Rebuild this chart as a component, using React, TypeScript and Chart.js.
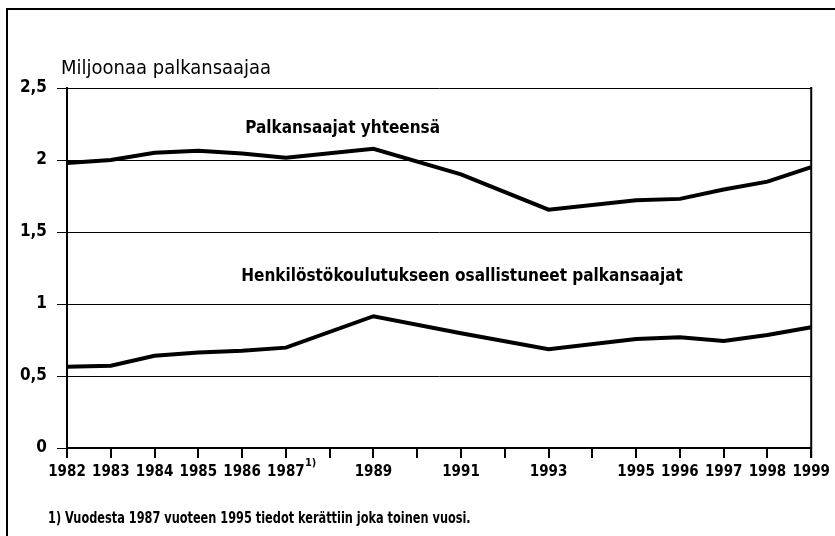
import React, { useEffect, useRef } from "react";
import { Chart, registerables } from "chart.js";

Chart.register(...registerables);

const years = [1982, 1983, 1984, 1985, 1986, 1987, 1989, 1991, 1993, 1995, 1996, 1997, 1998, 1999];
const totalEmployees = [1.98, 2.0, 2.05, 2.065, 2.045, 2.015, 2.078, 1.9, 1.655, 1.72, 1.73, 1.795, 1.85, 1.95];
const trainingParticipants = [0.565, 0.572, 0.64, 0.663, 0.676, 0.697, 0.915, 0.797, 0.686, 0.757, 0.769, 0.743, 0.785, 0.838];
const labeledYears = [1982, 1983, 1984, 1985, 1986, 1987, 1989, 1991, 1993, 1995, 1996, 1997, 1998, 1999];
const seriesNames = ["Palkansaajat yhteensä", "Henkilöstökoulutukseen osallistuneet palkansaajat"];
const seriesLabelAnchors = [
  { x: 1986.07, y: 2.215 },
  { x: 1985.98, y: 1.193 },
];
const yAxisTitle = "Miljoonaa palkansaajaa";
const footnoteMarkYear = 1987;
const footnoteMark = "1)";
const footnote = "1) Vuodesta 1987 vuoteen 1995 tiedot kerättiin joka toinen vuosi.";

const FAMILY = '"Liberation Sans Narrow", "DejaVu Sans Condensed", "Roboto Condensed", "Liberation Sans", sans-serif';

const annotations = {
  id: "annotations",
  afterDraw(chart: any) {
    const { ctx, chartArea, scales } = chart;
    ctx.save();
    // right border
    ctx.strokeStyle = "#000";
    ctx.lineWidth = 2;
    ctx.beginPath();
    ctx.moveTo(chartArea.right, chartArea.top - 1);
    ctx.lineTo(chartArea.right, chartArea.bottom + 10);
    ctx.stroke();
    // series labels
    ctx.fillStyle = "#000";
    ctx.font = `bold 17px ${FAMILY}`;
    ctx.textAlign = "left";
    ctx.textBaseline = "middle";
    seriesNames.forEach((n, i) => {
      const a = seriesLabelAnchors[i];
      ctx.fillText(n, scales.x.getPixelForValue(a.x), scales.y.getPixelForValue(a.y));
    });
    // footnote mark after 1987
    ctx.font = `bold 11px ${FAMILY}`;
    ctx.fillText(footnoteMark, scales.x.getPixelForValue(footnoteMarkYear) + 19, chartArea.bottom + 15);
    ctx.restore();
  },
};

export default function App() {
  const ref = useRef<HTMLCanvasElement>(null);
  useEffect(() => {
    const chart = new Chart(ref.current!, {
      type: "line",
      data: {
        datasets: [
          {
            label: seriesNames[0],
            data: years.map((y, i) => ({ x: y, y: totalEmployees[i] })),
            borderColor: "#000",
            borderWidth: 4,
            pointRadius: 0,
            tension: 0,
          },
          {
            label: seriesNames[1],
            data: years.map((y, i) => ({ x: y, y: trainingParticipants[i] })),
            borderColor: "#000",
            borderWidth: 4,
            pointRadius: 0,
            tension: 0,
          },
        ],
      },
      options: {
        responsive: false,
        animation: false,
        layout: { padding: { top: 88, right: 20, bottom: 38, left: 0 } },
        plugins: { legend: { display: false }, tooltip: { enabled: false }, title: { display: false } },
        scales: {
          x: {
            type: "linear",
            min: 1982,
            max: 1999,
            afterFit: (s: any) => { s.height = 50; },
            ticks: {
              stepSize: 1,
              autoSkip: false,
              maxRotation: 0,
              padding: 5,
              color: "#000",
              font: { family: FAMILY, size: 15, weight: "bold" },
              callback: (v: any) => (labeledYears.includes(Number(v)) ? String(v) : ""),
            },
            grid: { drawOnChartArea: false, drawTicks: true, tickLength: 10, color: "#000", lineWidth: 2 },
            border: { display: true, color: "#000", width: 2 },
          },
          y: {
            min: 0,
            max: 2.5,
            afterFit: (s: any) => { s.width = 67; },
            ticks: {
              stepSize: 0.5,
              padding: 10,
              color: "#000",
              font: { family: FAMILY, size: 17, weight: "bold" },
              callback: (v: any) => String(v).replace(".", ","),
            },
            grid: { color: "#000", lineWidth: 1, tickLength: 10 },
            border: { display: true, color: "#000", width: 2 },
          },
        },
      },
      plugins: [annotations],
    });
    return () => chart.destroy();
  }, []);

  return (
    <div style={{ position: "absolute", left: 0, top: 0, width: 835, height: 536, background: "#fff", overflow: "hidden" }}>
      <div style={{ position: "absolute", left: 6, top: 8, width: 900, height: 600, borderLeft: "2px solid #000", borderTop: "2px solid #000" }} />
      <canvas ref={ref} width={835} height={536} style={{ position: "absolute", left: 0, top: 0 }} />
      <div style={{ position: "absolute", left: 61, top: 55, font: `20px ${FAMILY}`, color: "#000", whiteSpace: "nowrap" }}>{yAxisTitle}</div>
      <div style={{ position: "absolute", left: 48, top: 509, font: `bold 15px ${FAMILY}`, color: "#000", whiteSpace: "nowrap", transform: "scaleX(0.84)", transformOrigin: "left center" }}>{footnote}</div>
    </div>
  );
}
